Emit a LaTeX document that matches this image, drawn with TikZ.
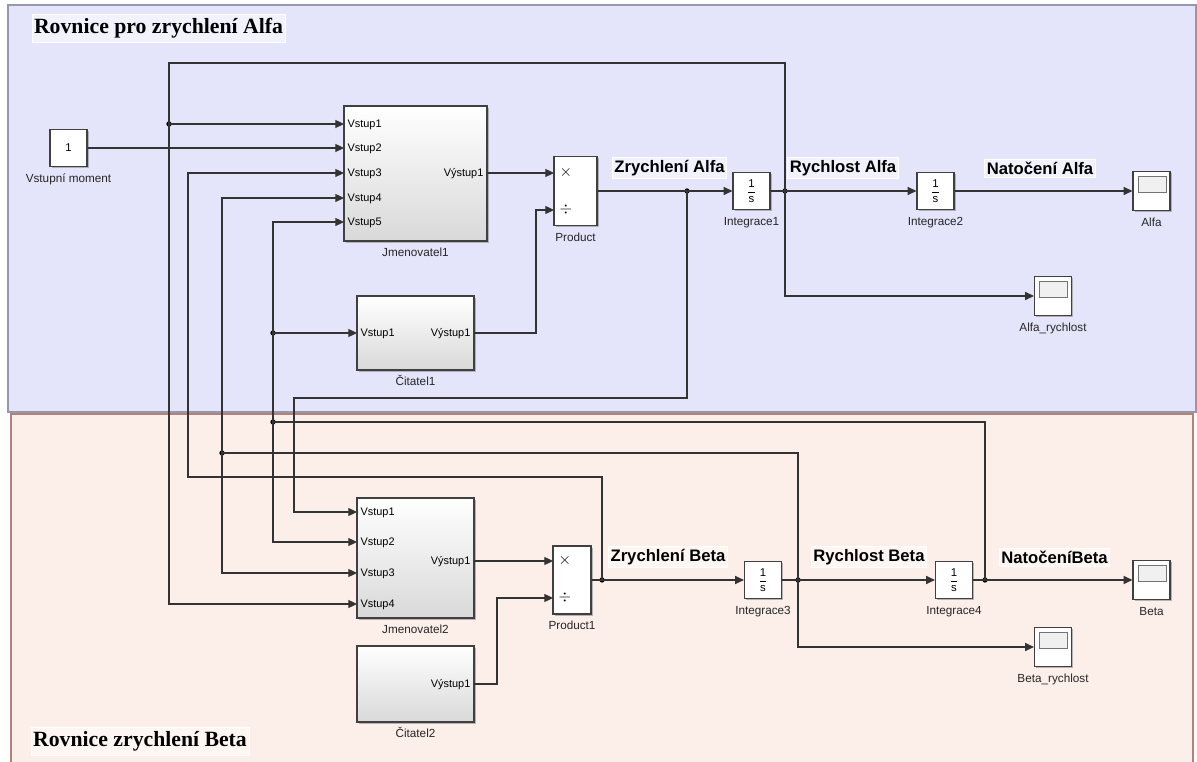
\documentclass[tikz,border=0pt]{standalone}
\usepackage{fontspec}
\setmainfont{Liberation Sans}
\newfontfamily\nadpisfont{Liberation Serif}
\usepackage{xcolor}
\usepackage{tikz}
\usetikzlibrary{positioning}
\usetikzlibrary{arrows.meta}
\usetikzlibrary{shadows}
\definecolor{alfabg}{RGB}{228,228,250}
\definecolor{alfaedge}{RGB}{150,150,172}
\definecolor{alfalbl}{RGB}{242,242,253}
\definecolor{betabg}{RGB}{252,238,233}
\definecolor{betaedge}{RGB}{176,132,122}
\definecolor{betalbl}{RGB}{254,246,243}
\newcommand{\zlomek}{$\displaystyle\frac{\mbox{1}}{\mbox{s}}$}
\tikzset{
    sig/.style = {draw=black!80, line width=0.8pt, -{Triangle[length=6.5pt,width=6pt]}},
    spoj/.style = {draw=black!80, line width=0.8pt},
    dot/.style = {shape=circle, fill=black, inner sep=0pt, minimum size=4pt},
    block/.style = {shape=rectangle, draw=black!75, line width=0.9pt, fill=white, inner sep=0pt,
        font=\fontsize{8.5}{10}\selectfont,
        drop shadow={shadow xshift=1.2pt, shadow yshift=-1.2pt, fill=black!45, opacity=0.6}},
    subsys/.style = {block, top color=white, middle color=white!97!black, bottom color=black!15},
    int block/.style = {block, minimum width=27.75pt, minimum height=27.75pt},
    osc block/.style = {block, minimum width=27.75pt, minimum height=29.5pt,
        path picture={\draw[black!55, line width=0.7pt, fill=white!94!black]
            ([shift={(5,5)}]path picture bounding box.north west) rectangle
            ([shift={(-4,21)}]path picture bounding box.north east);}},
    inport/.style = {anchor=west, inner xsep=2.5pt, inner ysep=0pt, text height=7.4pt, text depth=1.6pt,
        font=\fontsize{8.2}{10}\selectfont},
    outport/.style = {inport, anchor=east},
    opport/.style = {anchor=west, inner xsep=4pt, inner ysep=0pt, font=\large},
    lbl/.style = {inner xsep=1pt, inner ysep=0.5pt, text height=6.5pt, text depth=1.8pt,
        text=black!85, font=\fontsize{8.8}{10}\selectfont},
    siglbl/.style = {draw=white, inner xsep=1.5pt, inner ysep=2pt,
        font=\fontsize{12.5}{14}\selectfont\bfseries},
    titul/.style = {draw=white, inner xsep=1.5pt, inner ysep=3pt,
        font=\nadpisfont\fontsize{16.3}{18}\selectfont\bfseries},
    alfa region/.style = {draw=alfaedge, fill=alfabg, line width=1pt},
    beta region/.style = {draw=betaedge, fill=betabg, line width=1pt}
}
\begin{document}
\begin{tikzpicture}[x=0.75pt, y=-0.75pt]
    \useasboundingbox (0,0) rectangle (1197,762);
    \draw[alfa region] (8,5) rectangle (1196,412);
    \draw[beta region] (11,414) rectangle (1193,766);
    \node (tit1) [titul, fill=alfalbl] at (158.5,28) {Rovnice pro zrychlení Alfa};
    \node (tit2) [titul, fill=betalbl] at (140,741) {Rovnice zrychlení Beta};

    % cast alfa
    \node (konst) [block, minimum width=27.75pt, minimum height=27.75pt] at (68.5,148) {1};
    \node (lkonst) [lbl, below=4pt of konst] {Vstupní moment};
    \node (jmen1) [subsys, minimum width=107.25pt, minimum height=101.25pt] at (415.5,173.5) {};
    \node (ljmen1) [lbl, below=4pt of jmen1] {Jmenovatel1};
    \node (j1v1) [inport] at (344,124) {Vstup1};
    \node (j1v2) [inport] at (344,148) {Vstup2};
    \node (j1v3) [inport] at (344,173) {Vstup3};
    \node (j1v4) [inport] at (344,198) {Vstup4};
    \node (j1v5) [inport] at (344,222) {Vstup5};
    \node (j1out) [outport] at (487,173) {Výstup1};
    \node (cit1) [subsys, minimum width=87.75pt, minimum height=55.5pt] at (415.5,333) {};
    \node (lcit1) [lbl, below=4pt of cit1] {Čitatel1};
    \node (c1in) [inport] at (357,333) {Vstup1};
    \node (c1out) [outport] at (474,333) {Výstup1};
    \node (prod) [block, minimum width=32.25pt, minimum height=51.75pt] at (575.5,191) {};
    \node (lprod) [lbl, below=4pt of prod] {Product};
    \node (pnas) [opport] at (554,173) {$\times$};
    \node (pdel) [opport] at (554,210) {$\div$};
    \node (int1) [int block] at (751.5,191) {\zlomek};
    \node (lint1) [lbl, below=4pt of int1] {Integrace1};
    \node (int2) [int block] at (935.5,191) {\zlomek};
    \node (lint2) [lbl, below=4pt of int2] {Integrace2};
    \node (alfa) [osc block] at (1151.5,191) {};
    \node (lalfa) [lbl, below=4pt of alfa] {Alfa};
    \node (arych) [osc block] at (1053,296) {};
    \node (larych) [lbl, below=4pt of arych] {Alfa\_rychlost};
    \node (tza) [siglbl, fill=alfalbl] at (669.5,168) {Zrychlení Alfa};
    \node (tra) [siglbl, fill=alfalbl] at (843,168) {Rychlost Alfa};
    \node (tna) [siglbl, fill=alfalbl] at (1040,168) {Natočení Alfa};
    \node (dza) [dot] at (687,191) {};
    \node (dra) [dot] at (785,191) {};
    \node (dra2) [dot] at (169,124) {};

    % cast beta
    \node (jmen2) [subsys, minimum width=87.75pt, minimum height=90pt] at (415.5,558) {};
    \node (ljmen2) [lbl, below=4pt of jmen2] {Jmenovatel2};
    \node (j2v1) [inport] at (357,512) {Vstup1};
    \node (j2v2) [inport] at (357,542) {Vstup2};
    \node (j2v3) [inport] at (357,573) {Vstup3};
    \node (j2v4) [inport] at (357,604) {Vstup4};
    \node (j2out) [outport] at (474,561) {Výstup1};
    \node (cit2) [subsys, minimum width=87.75pt, minimum height=57pt] at (415.5,684) {};
    \node (lcit2) [lbl, below=4pt of cit2] {Čitatel2};
    \node (c2out) [outport] at (474,684) {Výstup1};
    \node (prod1) [block, minimum width=28.5pt, minimum height=51pt] at (572,580) {};
    \node (lprod1) [lbl, below=4pt of prod1] {Product1};
    \node (p2nas) [opport] at (553,561) {$\times$};
    \node (p2del) [opport] at (553,598) {$\div$};
    \node (int3) [int block] at (763,580) {\zlomek};
    \node (lint3) [lbl, below=4pt of int3] {Integrace3};
    \node (int4) [int block] at (954,580) {\zlomek};
    \node (lint4) [lbl, below=4pt of int4] {Integrace4};
    \node (beta) [osc block] at (1151.5,580) {};
    \node (lbeta) [lbl, below=4pt of beta] {Beta};
    \node (brych) [osc block] at (1053,647) {};
    \node (lbrych) [lbl, below=4pt of brych] {Beta\_rychlost};
    \node (tzb) [siglbl, fill=betalbl] at (668,557) {Zrychlení Beta};
    \node (trb) [siglbl, fill=betalbl] at (869,557) {Rychlost Beta};
    \node (tnb) [siglbl, fill=betalbl] at (1054.5,557) {NatočeníBeta};
    \node (dzb) [dot] at (602,580) {};
    \node (drb) [dot] at (798,580) {};
    \node (dnb) [dot] at (985,580) {};
    \node (dr2) [dot] at (222,453) {};
    \node (dn2) [dot] at (273,422) {};
    \node (dn3) [dot] at (273,333) {};

    % signaly alfa
    \draw[sig] (konst.east) -- (j1v2.west);
    \draw[sig] (j1out.east) -- (pnas.west);
    \draw[sig] (c1out.east) -- ++(62,0) |- (pdel.west);
    \draw[sig] (prod.east) -- (int1.west);
    \draw[sig] (int1.east) -- (int2.west);
    \draw[sig] (int2.east) -- (alfa.west);
    \draw[sig] (dra.center) |- (arych.west);
    \draw[sig] (dra.center) -- ++(0,-128) -| (dra2.center) |- (j2v4.west);
    \draw[sig] (dra2.center) -- (j1v1.west);
    \draw[sig] (dza.center) -- ++(0,207) -- ++(-393,0) |- (j2v1.west);

    % signaly beta
    \draw[sig] (j2out.east) -- (p2nas.west);
    \draw[sig] (c2out.east) -- ++(23,0) |- (p2del.west);
    \draw[sig] (prod1.east) -- (int3.west);
    \draw[sig] (int3.east) -- (int4.west);
    \draw[sig] (int4.east) -- (beta.west);
    \draw[sig] (drb.center) |- (brych.west);
    \draw[sig] (dzb.center) -- ++(0,-103) -- ++(-414,0) |- (j1v3.west);
    \draw[spoj] (drb.center) |- (dr2.center);
    \draw[sig] (dr2.center) |- (j1v4.west);
    \draw[sig] (dr2.center) |- (j2v3.west);
    \draw[spoj] (dnb.center) |- (dn2.center);
    \draw[sig] (dn2.center) |- (j1v5.west);
    \draw[sig] (dn2.center) |- (j2v2.west);
    \draw[sig] (dn3.center) -- (c1in.west);
\end{tikzpicture}
\end{document}
